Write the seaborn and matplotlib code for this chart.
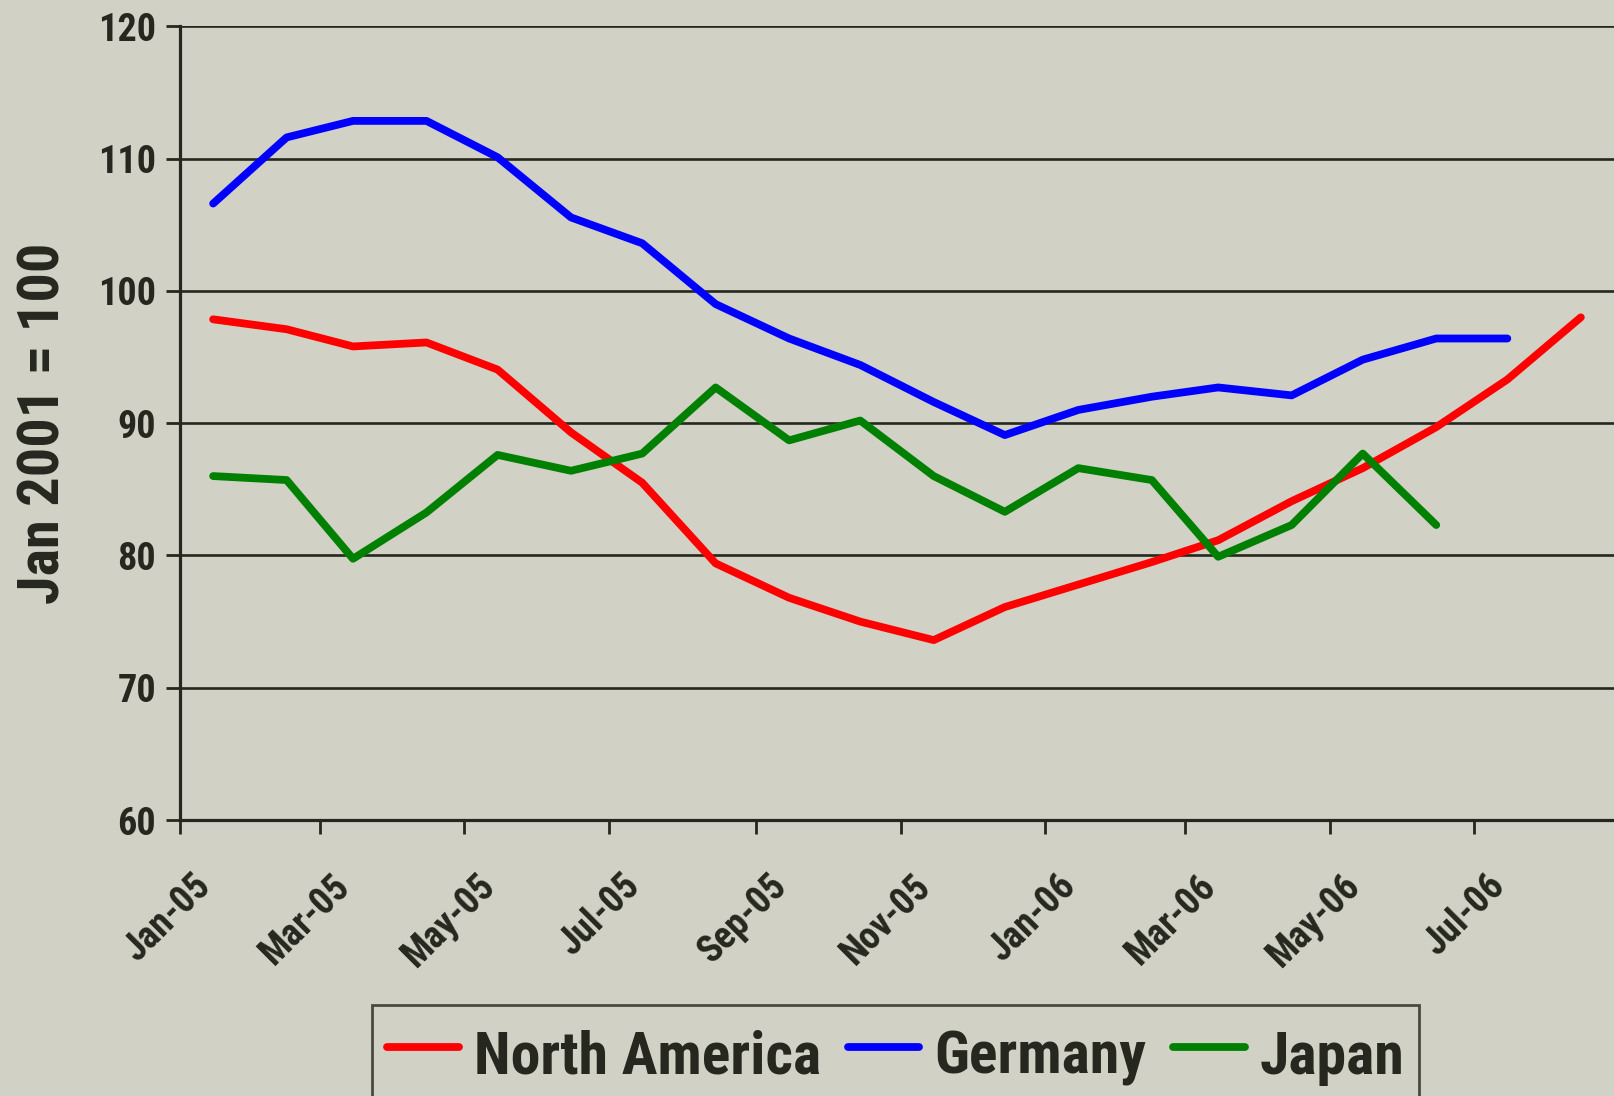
import matplotlib
matplotlib.use("Agg")
import matplotlib.pyplot as plt
import matplotlib.dates as mdates
from matplotlib import font_manager as fm
from matplotlib.transforms import ScaledTranslation
from matplotlib.lines import Line2D
import seaborn as sns
import pandas as pd
import numpy as np

months = pd.date_range("2005-01-01", periods=20, freq="MS") + pd.Timedelta(days=14)

north_america = [97.85, 97.1, 95.8, 96.1, 94.05, 89.3, 85.5, 79.4, 76.8, 75.0,
                 73.6, 76.1, 77.8, 79.5, 81.15, 84.1, 86.6, 89.7, 93.3, 98.0]
germany = [106.6, 111.6, 112.85, 112.85, 110.1, 105.55, 103.6, 99.0, 96.4, 94.4,
           91.6, 89.1, 91.0, 92.0, 92.7, 92.1, 94.8, 96.4, 96.4]
japan = [86.0, 85.7, 79.75, 83.25, 87.6, 86.4, 87.7, 92.7, 88.7, 90.2,
         86.0, 83.3, 86.6, 85.7, 79.9, 82.3, 87.7, 82.3]

series_names = ["North America", "Germany", "Japan"]
colors = ["#FF0000", "#0000FF", "#008000"]

rows = []
for name, vals in zip(series_names, [north_america, germany, japan]):
    for d, v in zip(months[:len(vals)], vals):
        rows.append({"date": d, "value": v, "series": name})
df = pd.DataFrame(rows)

sns.set_theme(style="white")

bold_fonts = {f.name for f in fm.fontManager.ttflist if f.weight in (700, "bold")}
FONT = "DejaVu Sans"
for cand in ["Liberation Sans Narrow", "Arial Narrow", "Roboto Condensed",
             "Barlow Semi Condensed", "Archivo Narrow", "Liberation Sans"]:
    if cand in bold_fonts:
        FONT = cand
        break
plt.rcParams['font.family'] = [FONT, 'DejaVu Sans']
plt.rcParams['font.weight'] = 'bold'

BG = "#D1D1C5"
DARK = "#26281F"

fig = plt.figure(figsize=(16.14, 10.96), dpi=100, facecolor=BG)
ax = fig.add_axes([0.1115, 0.2518, 1 - 0.1115, 0.976 - 0.2518])
ax.set_facecolor(BG)

sns.lineplot(data=df, x="date", y="value", hue="series", hue_order=series_names,
             palette=colors, linewidth=5.6, ax=ax, legend=False,
             solid_capstyle="round", estimator=None, sort=False)

ax.set_ylim(60, 120)
ax.set_yticks(np.arange(60, 121, 10))
ax.set_xlim(pd.Timestamp("2005-01-01"), pd.Timestamp("2006-08-29"))
ax.xaxis.set_major_locator(mdates.MonthLocator(bymonth=[1, 3, 5, 7, 9, 11]))
ax.xaxis.set_major_formatter(mdates.DateFormatter("%b-%y"))

ax.grid(axis="y", color=DARK, linewidth=1.9)
ax.grid(axis="x", visible=False)
ax.set_axisbelow(True)
for s in ["top", "right"]:
    ax.spines[s].set_visible(False)
for s in ["left", "bottom"]:
    ax.spines[s].set_color(DARK)
    ax.spines[s].set_linewidth(2.3)

ax.tick_params(axis="both", which="major", direction="out", length=10, width=2,
               color=DARK, labelcolor=DARK, left=True, bottom=True)
ax.tick_params(axis="y", labelsize=27.5, pad=7)
ax.tick_params(axis="x", labelsize=27, pad=24)

ax.set_xlabel("")
ax.set_ylabel("Jan 2001 = 100", fontsize=42, fontweight="bold", color=DARK)
ax.yaxis.set_label_coords(-0.095, 0.5)
ax.yaxis.label.set_va("center")

fig.canvas.draw()
offset = ScaledTranslation(0.12, 0, fig.dpi_scale_trans)
for lab in ax.get_xticklabels():
    lab.set_rotation(45)
    lab.set_ha("right")
    lab.set_va("top")
    lab.set_rotation_mode("anchor")
    lab.set_fontweight("bold")
    lab.set_transform(lab.get_transform() + offset)
for lab in ax.get_yticklabels():
    lab.set_fontweight("bold")

handles = [Line2D([0], [0], color=c, linewidth=5.6, solid_capstyle="round") for c in colors]
leg = fig.legend(handles, series_names, loc="upper center", bbox_to_anchor=(0.555, 0.083),
                 ncol=3, frameon=True, fancybox=False, fontsize=43, handlelength=1.2,
                 handleheight=1.36, handletextpad=0.25, columnspacing=0.45,
                 borderpad=0.25, borderaxespad=0, bbox_transform=fig.transFigure)
leg.get_frame().set_facecolor(BG)
leg.get_frame().set_edgecolor(DARK)
leg.get_frame().set_linewidth(2)
for t in leg.get_texts():
    t.set_color(DARK)
    t.set_fontweight("bold")

fig.savefig("out.png", dpi=100, facecolor=BG)
